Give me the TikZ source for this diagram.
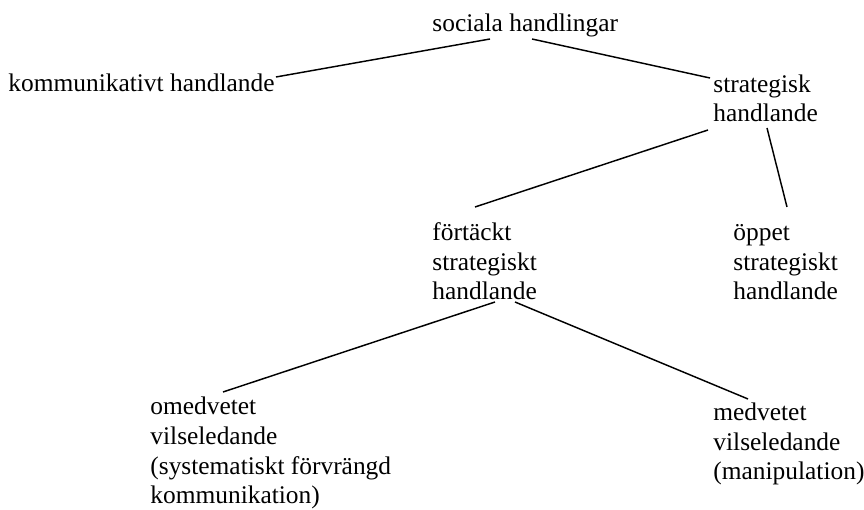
\documentclass[tikz,border=0pt]{standalone}
\usepackage{fontspec}
\setmainfont{Liberation Serif}

\begin{document}
\begin{tikzpicture}[
  x=0.48pt, y=-0.48pt,
  term/.style = {inner sep=0pt, anchor=base west, align=left, font=\fontsize{12.2}{14.26}\selectfont},
  link/.style = {line width=0.7pt}
]
  \useasboundingbox (0,0) rectangle (864,510);

  % Nodes (placed by the baseline of their last line)
  \node[term] (social) at (432,32) {sociala handlingar};
  \node[term] (komm) at (8,92) {kommunikativt handlande};
  \node[term] (strat) at (713,122) {strategisk\\handlande};
  \node[term] (dolt) at (432,300) {förtäckt\\strategiskt\\handlande};
  \node[term] (open) at (733,300) {öppet\\strategiskt\\handlande};
  \node[term] (omedv) at (150,504) {omedvetet\\vilseledande\\(systematiskt förvrängd\\kommunikation)};
  \node[term] (medv) at (713,480) {medvetet\\vilseledande\\(manipulation)};

  % Connections
  \draw[link] ([shift={(58,7)}]social.base west) -- ([shift={(1,-15)}]komm.base east);
  \draw[link] ([shift={(100,7)}]social.base west) -- ([shift={(-3,-44)}]strat.base west);

  % strategisk handlande
  \draw[link] ([shift={(-5,8)}]strat.base west) -- ([shift={(43,-93)}]dolt.base west);
  \draw[link] ([shift={(54,6)}]strat.base west) -- ([shift={(54,-93)}]open.base west);

  % förtäckt handlande
  \draw[link] ([shift={(63,2)}]dolt.base west) -- ([shift={(73,-112)}]omedv.base west);
  \draw[link] ([shift={(83,2)}]dolt.base west) -- ([shift={(35,-81)}]medv.base west);

\end{tikzpicture}
\end{document}
